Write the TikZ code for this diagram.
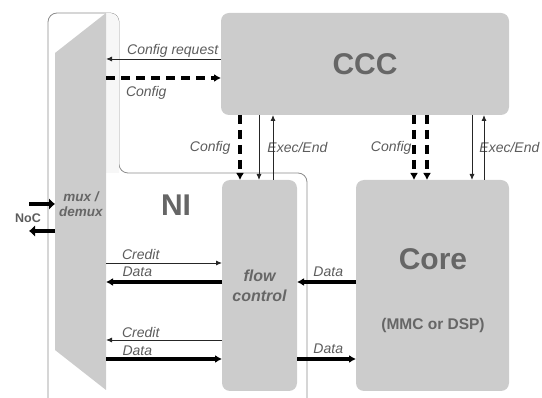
\documentclass[tikz,border=0pt]{standalone}
\usepackage{fontspec}
\setmainfont{Liberation Sans}
\usetikzlibrary{arrows.meta}

\definecolor{boxgray}{HTML}{CCCCCC}
\definecolor{txtgray}{HTML}{666666}
\definecolor{lblgray}{HTML}{5C5C5C}
\definecolor{linegray}{HTML}{8C8C8C}

\tikzset{
  block/.style={fill=boxgray, rounded corners=8pt, inner sep=0pt, outer sep=0pt},
  thinarr/.style={-{Latex[length=6pt,width=5pt]}, line width=0.9pt, black!85},
  thickarr/.style={-{Latex[length=7pt,width=8pt]}, line width=3.2pt},
  dasharr/.style={thickarr, dash pattern=on 9pt off 6pt},
  nocarr/.style={-{Latex[length=6pt,width=12pt]}, line width=4.5pt},
  lbl/.style={font=\fontsize{14}{16}\selectfont\itshape, text=lblgray, inner sep=1pt},
  bigtxt/.style={font=\fontsize{30}{32}\selectfont\bfseries, text=txtgray},
}

\begin{document}
\begin{tikzpicture}[x=1pt,y=-1pt]
  \useasboundingbox (0,0) rectangle (542,398);

  % NI outline
  \draw[linegray, line width=0.8pt, rounded corners=9pt]
    (48,398) -- (48,13) -- (119,13) -- (119,173) -- (307,173) -- (307,398);
  \fill[gray!6, rounded corners=9pt] (106,13) -- (119,13) [sharp corners] -- (119,173) -- (106,173) -- cycle;

  % mux / demux
  \node[minimum width=51pt, minimum height=377pt, inner sep=0pt, outer sep=0pt] (mux) at (80.5,201.5) {};
  \fill[boxgray] (mux.west |- 0,53) -- (mux.north east) -- (mux.south east) -- (mux.west |- 0,350) -- cycle;
  \node[font=\fontsize{13.5}{15}\selectfont\bfseries\itshape, text=txtgray, align=center] (muxlbl) at (81,204) {mux /\\demux};

  % blocks
  \node[block, minimum width=288pt, minimum height=102pt, bigtxt] (ccc) at (365,64) {CCC};
  \node[block, minimum width=75pt, minimum height=211pt, align=center,
        font=\fontsize{16}{20}\selectfont\bfseries\itshape, text=txtgray] (flow) at (259.5,285.5) {flow\\control};
  \node[block, minimum width=153pt, minimum height=211pt] (core) at (432.5,285.5) {};
  \node[bigtxt] (coretitle) at (433,259) {Core};
  \node[font=\fontsize{15.5}{18}\selectfont\bfseries, text=txtgray] (coresub) at (433,325) {(MMC or DSP)};

  \node[bigtxt] (ni) at (176,205) {NI};
  \node[font=\fontsize{12.5}{14}\selectfont\bfseries, text=lblgray] (noc) at (28,218) {NoC};

  % NoC links
  \draw[nocarr] (mux.west |- 0,204) ++(-26,0) -- (mux.west |- 0,204);
  \draw[nocarr] (mux.west |- 0,231) -- ++(-26,0);

  % CCC <-> mux
  \draw[thinarr] (ccc.west |- 0,59) -- (mux.east |- 0,59)
    node[lbl, above, pos=0.42] {Config request};
  \draw[dasharr] (mux.east |- 0,78) -- (ccc.west |- 0,78)
    node[lbl, below=6pt, pos=0.35] {Config};

  % CCC <-> flow control
  \draw[dasharr] (ccc.south -| 240,0) -- (flow.north -| 240,0)
    node[lbl, left=7pt, midway] {Config};
  \draw[thinarr] (ccc.south -| 259,0) -- (flow.north -| 259,0)
    node[lbl, right=7pt, midway] {Exec/End};
  \draw[thinarr] (flow.north -| 273,0) -- (ccc.south -| 273,0);

  % CCC <-> core
  \draw[dasharr] (ccc.south -| 414,0) -- (core.north -| 414,0)
    node[lbl, left=0pt, midway] {Config};
  \draw[dasharr] (ccc.south -| 427,0) -- (core.north -| 427,0);
  \draw[thinarr] (ccc.south -| 472,0) -- (core.north -| 472,0)
    node[lbl, right=6pt, midway] {Exec/End};
  \draw[thinarr] (core.north -| 484,0) -- (ccc.south -| 484,0);

  % mux <-> flow control
  \draw[thinarr] (mux.east |- 0,263) -- (flow.west |- 0,263)
    node[lbl, above=2pt, pos=0.30] {Credit};
  \draw[thickarr] (flow.west |- 0,282) -- (mux.east |- 0,282)
    node[lbl, above=3pt, pos=0.73] {Data};
  \draw[thinarr] (flow.west |- 0,340) -- (mux.east |- 0,340)
    node[lbl, above=1pt, pos=0.70] {Credit};
  \draw[thickarr] (mux.east |- 0,359) -- (flow.west |- 0,359)
    node[lbl, above=1pt, pos=0.27] {Data};

  % flow control <-> core
  \draw[thickarr] (core.west |- 0,282) -- (flow.east |- 0,282)
    node[lbl, above=3pt, pos=0.47] {Data};
  \draw[thickarr] (flow.east |- 0,359) -- (core.west |- 0,359)
    node[lbl, above=3pt, pos=0.53] {Data};
\end{tikzpicture}
\end{document}
